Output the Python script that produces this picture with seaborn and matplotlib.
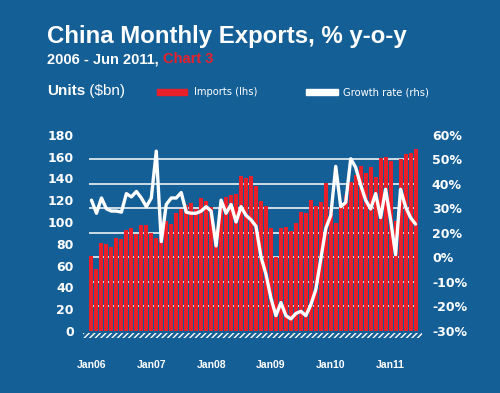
#import libraries
import seaborn as sns
import matplotlib.pyplot as plt
import matplotlib.patches as mpatches
import numpy as np
import pandas as pd

#data: monthly, Jan 2006 - Jun 2011
imports_bn = [69, 57, 81, 80, 77, 85, 84, 93, 94, 89, 97, 97,
              90, 85, 86, 101, 98, 108, 112, 116, 117, 112, 122, 119,
              114, 92, 113, 123, 125, 126, 142, 140, 142, 133, 119, 115,
              94, 68, 94, 95, 92, 99, 109, 108, 120, 115, 118, 136,
              114, 99, 117, 125, 137, 143, 151, 145, 150, 141, 159, 160,
              156, 101, 158, 162, 163, 167]
growth_pct = [30, 24, 31, 26, 25, 25, 24.5, 33, 31.5, 34, 31, 27,
              31, 52.5, 11, 28, 31, 31, 33.5, 24.5, 24, 24, 25, 27,
              25, 9, 30, 24, 28, 20, 27, 23, 21, 18, 4, -4,
              -15, -23, -17, -23, -24.5, -22, -21, -23, -18, -11, 3, 17,
              23, 45.5, 27, 29, 49, 45, 37, 30, 26, 33, 22, 35,
              21, 5, 35, 27, 22, 19]
year_labels = ["Jan06", "Jan07", "Jan08", "Jan09", "Jan10", "Jan11"]
left_ticks = [0, 20, 40, 60, 80, 100, 120, 140, 160, 180]
right_labels = ["-30%", "-20%", "-10%", "0%", "20%", "30%", "40%", "50%", "60%"]

df = pd.DataFrame({"month": np.arange(len(imports_bn)),
                   "imports": imports_bn,
                   "growth": growth_pct})

#colours and style
bg = "#155f97"
red = "#e8202a"
sns.set_style("dark", {"axes.facecolor": bg, "figure.facecolor": bg})
plt.rcParams["font.family"] = ["DejaVu Sans"]
head_font = ["Liberation Sans", "DejaVu Sans"]

fig = plt.figure(figsize=(5, 3.93), dpi=100)
ax = fig.add_axes([0.178, 0.158, 0.658, 0.499])

#bars (lhs)
sns.barplot(data=df, x="month", y="imports", color=red, saturation=1,
            width=0.8, linewidth=0, ax=ax)
ax.set_ylim(0, 180)
ax.set_xlim(-0.5, len(imports_bn) - 0.5)
ax.set_yticks(left_ticks)
ax.set_yticks(np.linspace(0, 180, 9), minor=True)
ax.grid(False)
ax.grid(True, which="minor", axis="y", color="white", lw=1.1)
ax.set_axisbelow(True)
ax.set_xticks([0, 12, 24, 36, 48, 60])
ax.set_xticklabels(year_labels)
ax.set_xlabel("")
ax.set_ylabel("")
ax.tick_params(axis="y", which="both", length=0, pad=11, labelcolor="white", labelsize=9)
ax.tick_params(axis="x", length=0, pad=21, labelcolor="white", labelsize=7.5)
for lab in ax.get_yticklabels():
    lab.set_fontweight("bold")
for lab in ax.get_xticklabels():
    lab.set_family(head_font)
    lab.set_fontweight("bold")
for s in ax.spines.values():
    s.set_visible(False)

#hatched base strip
ax.add_patch(mpatches.Rectangle((-0.018, -0.037), 1.03, 0.026, transform=ax.transAxes,
                                fill=False, hatch="//////", edgecolor="white",
                                lw=0, clip_on=False))

#growth line (rhs)
ax2 = ax.twinx()
sns.lineplot(data=df, x="month", y="growth", color="white", lw=2.4, ax=ax2)
ax2.set_ylim(-30, 60)
ax2.set_xlim(-0.5, len(imports_bn) - 0.5)
ax2.set_yticks(np.linspace(-30, 60, 9))
ax2.set_yticklabels(right_labels)
ax2.set_ylabel("")
ax2.grid(False)
ax2.tick_params(axis="y", length=0, pad=10, labelcolor="white", labelsize=9)
for lab in ax2.get_yticklabels():
    lab.set_fontweight("bold")
for s in ax2.spines.values():
    s.set_visible(False)

#titles
fig.text(0.094, 0.891, "China Monthly Exports, % y-o-y", color="white",
         fontsize=17.3, fontweight="bold", family=head_font, va="baseline")
sub = fig.text(0.094, 0.839, "2006 - Jun 2011, ", color="white",
               fontsize=10.5, fontweight="bold", family=head_font, va="baseline")
ax.annotate("Chart 3", xy=(1, 0), xycoords=sub, va="bottom", ha="left",
            color=red, fontsize=10.5, fontweight="bold", family=head_font,
            annotation_clip=False)
units = fig.text(0.094, 0.758, "Units", color="white", fontsize=11,
                 fontweight="bold", family=head_font, va="baseline")
ax.annotate(" ($bn)", xy=(1, 0), xycoords=units, va="bottom", ha="left",
            color="white", fontsize=11, family=head_font, annotation_clip=False)

#legend keys
fig.patches.append(mpatches.Rectangle((0.314, 0.758), 0.06, 0.016, color=red,
                                      transform=fig.transFigure, figure=fig))
fig.text(0.388, 0.758, "Imports (lhs)", color="white", fontsize=7.2, va="baseline")
fig.patches.append(mpatches.Rectangle((0.612, 0.758), 0.064, 0.016, color="white",
                                      transform=fig.transFigure, figure=fig))
fig.text(0.686, 0.758, "Growth rate (rhs)", color="white", fontsize=7.2, va="baseline")

plt.savefig("out.png", dpi=100, facecolor=bg)
